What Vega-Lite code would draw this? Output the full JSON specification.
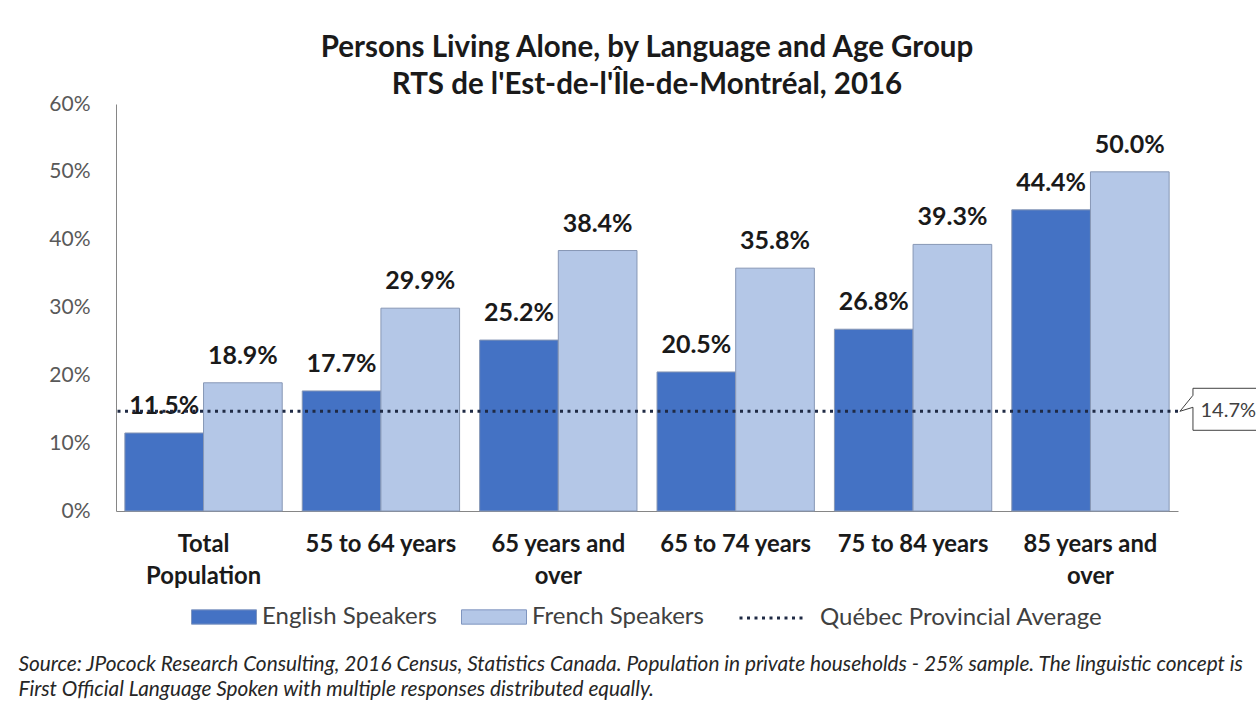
{
  "$schema": "https://vega.github.io/schema/vega-lite/v6.json",
  "width": 1062,
  "height": 407,
  "autosize": {"type": "none"},
  "padding": {"left": 116, "top": 104, "right": 78, "bottom": 197},
  "background": "white",
  "config": {"font": "Lato", "view": {"stroke": null}},
  "title": {
    "text": ["Persons Living Alone, by Language and Age Group", "RTS de l'Est-de-l'Île-de-Montréal, 2016"],
    "font": "Lato",
    "fontSize": 29.5,
    "fontWeight": "bold",
    "color": "#1a1a1a",
    "lineHeight": 37,
    "anchor": "middle",
    "offset": -7
  },
  "datasets": {
    "bars": [
      {"Group": "Total\nPopulation", "Language": "English Speakers", "Value": 0.115},
      {"Group": "Total\nPopulation", "Language": "French Speakers", "Value": 0.189},
      {"Group": "55 to 64 years", "Language": "English Speakers", "Value": 0.177},
      {"Group": "55 to 64 years", "Language": "French Speakers", "Value": 0.299},
      {"Group": "65 years and\nover", "Language": "English Speakers", "Value": 0.252},
      {"Group": "65 years and\nover", "Language": "French Speakers", "Value": 0.384},
      {"Group": "65 to 74 years", "Language": "English Speakers", "Value": 0.205},
      {"Group": "65 to 74 years", "Language": "French Speakers", "Value": 0.358},
      {"Group": "75 to 84 years", "Language": "English Speakers", "Value": 0.268},
      {"Group": "75 to 84 years", "Language": "French Speakers", "Value": 0.393},
      {"Group": "85 years and\nover", "Language": "English Speakers", "Value": 0.444},
      {"Group": "85 years and\nover", "Language": "French Speakers", "Value": 0.5}
    ],
    "avg": [{"label": "Québec Provincial Average", "value": 0.147}]
  },
  "layer": [
    {
      "data": {"name": "bars"},
      "mark": {"type": "bar", "stroke": "#8797B5", "strokeWidth": 1},
      "encoding": {
        "x": {
          "field": "Group", "type": "nominal", "sort": null,
          "scale": {"paddingInner": 0.113, "paddingOuter": 0.05},
          "axis": {
            "title": ["Source: JPocock Research Consulting, 2016 Census, Statistics Canada. Population in private households - 25% sample. The linguistic concept is", "First Official Language Spoken with multiple responses distributed equally."],
            "titleFont": "Lato", "titleFontStyle": "italic", "titleFontWeight": "normal",
            "titleFontSize": 20.8, "titleColor": "#262626",
            "titleAlign": "left", "titleAnchor": "start", "titleX": -98, "titleY": 143,
            "titleBaseline": "top", "titleLineHeight": 25,
            "labelExpr": "split(datum.label, '\\n')",
            "labelFont": "Lato", "labelFontSize": 23.8, "labelFontWeight": "bold",
            "labelColor": "#1a1a1a", "labelLineHeight": 32, "labelPadding": 21,
            "labelAngle": 0, "ticks": false, "domainColor": "#868686", "labelLimit": 0
          }
        },
        "xOffset": {"field": "Language", "type": "nominal", "sort": ["English Speakers", "French Speakers"], "scale": {"paddingInner": 0}},
        "y": {
          "field": "Value", "type": "quantitative",
          "scale": {"domain": [0, 0.6], "nice": false},
          "axis": {
            "values": [0, 0.1, 0.2, 0.3, 0.4, 0.5, 0.6], "format": ".0%", "grid": false, "ticks": false,
            "domainColor": "#868686", "labelFont": "Lato", "labelFontSize": 21, "labelColor": "#595959",
            "labelPadding": 26, "title": null
          }
        },
        "color": {
          "field": "Language", "type": "nominal",
          "scale": {"domain": ["English Speakers", "French Speakers"], "range": ["#4472C4", "#B4C7E7"]},
          "legend": {
            "title": null, "orient": "none", "legendX": 75, "legendY": 480,
            "direction": "horizontal", "columns": 2,
            "symbolSize": 4225, "symbolType": "M-1,-0.22H1V0.22H-1Z",
            "symbolStrokeColor": "#7F95BF", "symbolStrokeWidth": 1,
            "labelFont": "Lato", "labelFontSize": 24, "labelColor": "#404040",
            "labelOffset": 5, "columnPadding": 22, "labelLimit": 500
          }
        }
      }
    },
    {
      "data": {"name": "bars"},
      "mark": {"type": "text", "font": "Lato", "fontWeight": "bold", "fontSize": 25, "color": "#1a1a1a", "baseline": "alphabetic", "dy": -19},
      "encoding": {
        "x": {"field": "Group", "type": "nominal", "sort": null},
        "xOffset": {"field": "Language", "type": "nominal", "sort": ["English Speakers", "French Speakers"]},
        "y": {"field": "Value", "type": "quantitative"},
        "text": {"field": "Value", "type": "quantitative", "format": ".1%"}
      }
    },
    {
      "data": {"name": "avg"},
      "mark": {"type": "rule", "color": "#1F2A44", "strokeWidth": 3},
      "encoding": {
        "y": {"field": "value", "type": "quantitative"},
        "strokeDash": {
          "field": "label", "type": "nominal",
          "scale": {"domain": ["Québec Provincial Average"], "range": [[3, 4.5]]},
          "legend": {
            "title": null, "orient": "none", "legendX": 622, "legendY": 480,
            "symbolSize": 4225, "symbolType": "stroke", "symbolStrokeWidth": 3,
            "symbolStrokeColor": "#1F2A44",
            "labelFont": "Lato", "labelFontSize": 24, "labelColor": "#404040",
            "labelOffset": 14, "labelLimit": 500
          }
        }
      }
    },
    {
      "data": {"name": "avg"},
      "mark": {"type": "point", "shape": "M102.5,-16L89.5,0L102.5,-4L102.5,19L200,19L200,-23L102.5,-23Z", "size": 4, "filled": false, "stroke": "#404040", "strokeWidth": 1, "opacity": 1},
      "encoding": {
        "x": {"datum": "85 years and\nover", "type": "nominal"},
        "y": {"field": "value", "type": "quantitative"}
      }
    },
    {
      "data": {"name": "avg"},
      "mark": {"type": "text", "font": "Lato", "fontSize": 20, "color": "#404040", "align": "left", "baseline": "middle", "dx": 110},
      "encoding": {
        "x": {"datum": "85 years and\nover", "type": "nominal"},
        "y": {"field": "value", "type": "quantitative"},
        "text": {"field": "value", "type": "quantitative", "format": ".1%"}
      }
    }
  ]
}
